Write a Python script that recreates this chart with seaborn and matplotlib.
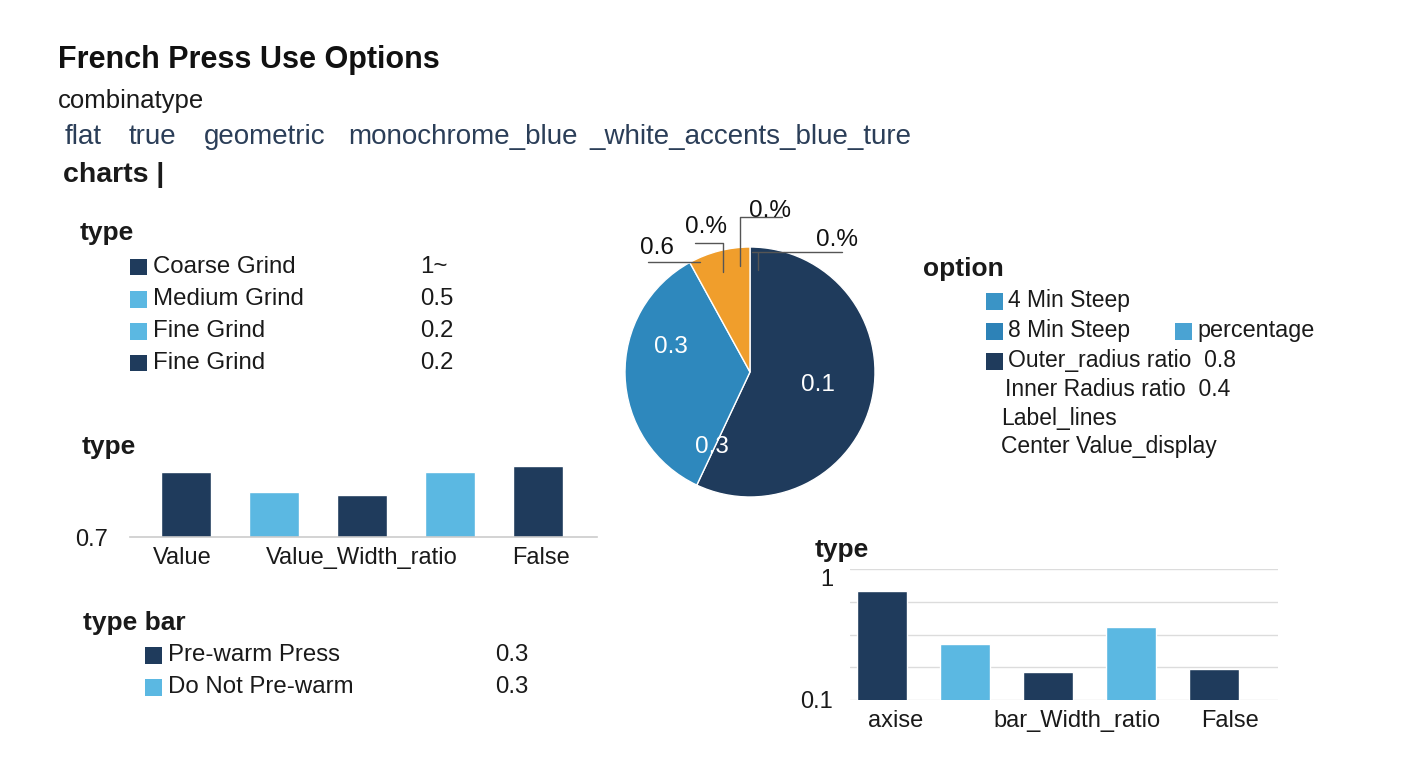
import numpy as np
import matplotlib.pyplot as plt
from matplotlib.patches import Rectangle
from matplotlib.lines import Line2D
import seaborn as sns

sns.set_style('white')
plt.rcParams['font.family'] = ['Liberation Sans', 'DejaVu Sans']

NAVY = '#1f3b5c'
SKY = '#5bb8e2'
STEEL = '#2e88bd'
ORANGE = '#f09e2c'
INK = '#1a1a1a'

# ---- data ----
title = 'French Press Use Options'
subtitle = 'combinatype'
tags = ['flat', 'true', 'geometric', 'monochrome_blue', '_white_accents_blue_ture']
tag_x = [65, 129, 204, 348, 589]

grind_labels = ['Coarse Grind', 'Medium Grind', 'Fine Grind', 'Fine Grind']
grind_values = ['1~', '0.5', '0.2', '0.2']
grind_colors = [NAVY, SKY, SKY, NAVY]

prewarm_labels = ['Pre-warm Press', 'Do Not Pre-warm']
prewarm_values = ['0.3', '0.3']
prewarm_colors = [NAVY, SKY]

option_labels = ['4 Min Steep', '8 Min Steep', 'Outer_radius ratio  0.8']
option_colors = ['#3a94c6', '#2d82b7', NAVY]
option_extra = ['Inner Radius ratio  0.4', 'Label_lines', 'Center Value_display']

steep_values = [57, 35, 8]
steep_colors = [NAVY, STEEL, ORANGE]
pie_inner = ['0.1', '0.3', '0.3']
pie_outer = ['0.6', '0.%', '0.%', '0.%']

grind_bar_cats = ['Value', 'Value_Width', 'Value_Width_ratio', 'Width_ratio', 'False']
grind_bar_values = [0.765, 0.745, 0.742, 0.765, 0.771]
grind_bar_ticks = ['Value', 'Value_Width_ratio', 'False']

axis_bar_cats = ['axise', 'axise_bar', 'bar_Width_ratio', 'Width_ratio', 'False']
axis_bar_values = [0.85, 0.485, 0.29, 0.60, 0.31]
axis_bar_ticks = ['axise', 'bar_Width_ratio', 'False']
bar_colors = [NAVY, SKY, NAVY, SKY, NAVY]

W, H = 1408, 768


def box(x0, y0, x1, y1):
    return [x0 / W, 1 - y1 / H, (x1 - x0) / W, (y1 - y0) / H]


def put(x, y, s, size=16, **kw):
    kw.setdefault('color', INK)
    fig.text(x / W, 1 - y / H, s, fontsize=size, va='center', ha=kw.pop('ha', 'left'), **kw)


def square(x, y, color, side=17):
    fig.add_artist(Rectangle((x / W, 1 - (y + side / 2) / H), side / W, side / H,
                             transform=fig.transFigure, color=color, lw=0))


def line(xs, ys):
    fig.add_artist(Line2D([x / W for x in xs], [1 - y / H for y in ys],
                          transform=fig.transFigure, color='#555555', lw=1))


fig = plt.figure(figsize=(14.08, 7.68), dpi=100)

# ---- header ----
put(58, 60, title, size=22, weight='bold', color='#111111')
put(58, 101, subtitle, size=18.5)
for x, t in zip(tag_x, tags):
    put(x, 137, t, size=20, color='#2b3e58')
put(63, 175, 'charts |', size=20.5, weight='bold')

# ---- grind legend ----
put(80, 233, 'type', size=19, weight='bold')
for i, (lab, val, col) in enumerate(zip(grind_labels, grind_values, grind_colors)):
    y = 267 + 32 * i
    square(130, y, col)
    put(153, y, lab, size=17.3)
    put(420, y, val, size=17.3)

# ---- pre-warm legend ----
put(83, 623, 'type bar', size=19, weight='bold')
for i, (lab, val, col) in enumerate(zip(prewarm_labels, prewarm_values, prewarm_colors)):
    y = 655 + 32 * i
    square(145, y, col)
    put(168, y, lab, size=17.3)
    put(495, y, val, size=17.3)

# ---- option legend ----
put(923, 269, 'option', size=19, weight='bold')
for i, (lab, col) in enumerate(zip(option_labels, option_colors)):
    y = 301 + 30 * i
    square(986, y, col)
    put(1008, y, lab, size=16.5)
square(1175, 331, '#4aa3d3')
put(1197, 331, 'percentage', size=16.8)
for (x, y), t in zip([(1005, 390), (1001, 419), (1001, 447)], option_extra):
    put(x, y, t, size=16.5)

# ---- pie ----
axp = fig.add_axes(box(625, 247, 875, 497))
axp.pie(steep_values, colors=steep_colors, startangle=90, counterclock=False,
        radius=1, wedgeprops=dict(edgecolor='white', linewidth=1))
axp.set_xlim(-1, 1)
axp.set_ylim(-1, 1)
axp.set_aspect('equal')
axp.axis('off')
for (x, y), t in zip([(818, 385), (671, 347), (712, 447)], pie_inner):
    put(x, y, t, size=17.5, color='white', ha='center')
for (x, y), t in zip([(657, 248), (706, 227), (770, 211), (837, 240)], pie_outer):
    put(x, y, t, size=17.5, color='#111111', ha='center')
line([648, 700], [262, 262])
line([695, 723, 723], [243, 243, 272])
line([782, 740, 740], [217, 217, 266])
line([842, 752], [252, 252])
line([758, 758], [252, 270])

# ---- left bar chart ----
put(82, 447, 'type', size=19, weight='bold')
ax1 = fig.add_axes(box(130, 437, 597, 537))
sns.barplot(x=grind_bar_cats, y=grind_bar_values, hue=grind_bar_cats, palette=bar_colors,
            width=0.57, saturation=1, legend=False, ax=ax1)
ax1.set_ylim(0.7, 0.8)
ax1.set_xlim(-0.64, 4.67)
ax1.set_yticks([0.7])
ax1.set_yticklabels(['0.7'])
ax1.set_xticks([-0.05, 2.0, 4.03])
ax1.set_xticklabels(grind_bar_ticks)
ax1.tick_params(axis='x', length=0, labelsize=17, pad=7, labelcolor=INK)
ax1.tick_params(axis='y', length=0, labelsize=17, pad=16, labelcolor=INK)
ax1.set_xlabel('')
ax1.set_ylabel('')
for s in ['left', 'right', 'top']:
    ax1.spines[s].set_visible(False)
ax1.spines['bottom'].set_color('#cccccc')
ax1.spines['bottom'].set_linewidth(1.2)

# ---- right bar chart ----
put(815, 550, 'type', size=19, weight='bold')
ax2 = fig.add_axes(box(850, 569, 1278, 700))
sns.barplot(x=axis_bar_cats, y=axis_bar_values, hue=axis_bar_cats, palette=bar_colors,
            width=0.6, saturation=1, legend=False, ax=ax2)
ax2.set_ylim(0.1, 1.0)
ax2.set_xlim(-0.39, 4.77)
ax2.set_yticks(np.linspace(0.1, 1.0, 5))
ax2.set_yticklabels(['0.1', '', '', '', '1'])
ax2.get_yticklabels()[-1].set_va('top')
ax2.set_xticks([0.16, 2.35, 4.19])
ax2.set_xticklabels(axis_bar_ticks)
ax2.tick_params(axis='x', length=0, labelsize=17, pad=7, labelcolor=INK)
ax2.tick_params(axis='y', length=0, labelsize=17, pad=12, labelcolor=INK)
ax2.grid(axis='y', color='#dcdcdc', lw=1)
ax2.set_axisbelow(True)
ax2.set_xlabel('')
ax2.set_ylabel('')
for s in ax2.spines.values():
    s.set_visible(False)

fig.savefig('out.png', dpi=100, facecolor='white')
